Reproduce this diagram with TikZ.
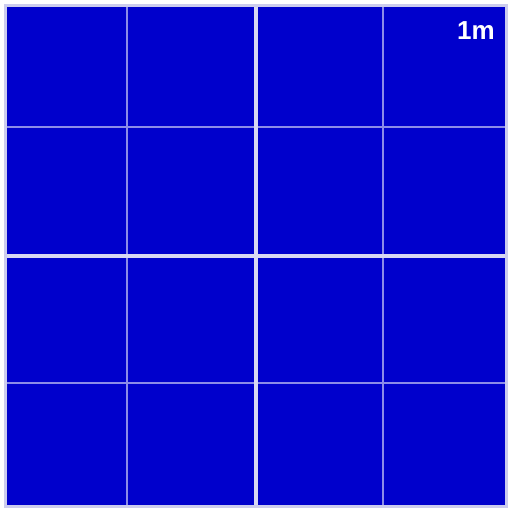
\documentclass[tikz,border=0pt]{standalone}
\usepackage{fontspec}
\setmainfont{Liberation Sans}
\definecolor{tileblue}{HTML}{0000CC}
\definecolor{thinline}{HTML}{8C8CE8}
\definecolor{thickline}{HTML}{D8D8F2}
\definecolor{borderline}{HTML}{CCCCEE}
\begin{document}
\begin{tikzpicture}[x=1pt,y=-1pt,
  thin grid/.style={draw=thinline,line width=2pt},
  thick grid/.style={draw=thickline,line width=4pt},
  frame/.style={draw=borderline,line width=3pt},
  label/.style={text=white,font=\bfseries\fontsize{26}{26}\selectfont,inner sep=0pt,anchor=base east}]
\useasboundingbox (0,0) rectangle (512,512);
\fill[white] (0,0) rectangle (512,512);
\fill[tileblue] (5.5,5.5) rectangle (506.5,506.5);
\draw[thin grid] (127,5.5) -- (127,506.5);
\draw[thin grid] (383,5.5) -- (383,506.5);
\draw[thin grid] (5.5,127) -- (506.5,127);
\draw[thin grid] (5.5,383) -- (506.5,383);
\draw[thick grid] (256,5.5) -- (256,506.5);
\draw[thick grid] (5.5,256) -- (506.5,256);
\draw[frame] (5.5,5.5) rectangle (506.5,506.5);
\node[label] (scale) at (495,39) {1m};
\end{tikzpicture}
\end{document}
